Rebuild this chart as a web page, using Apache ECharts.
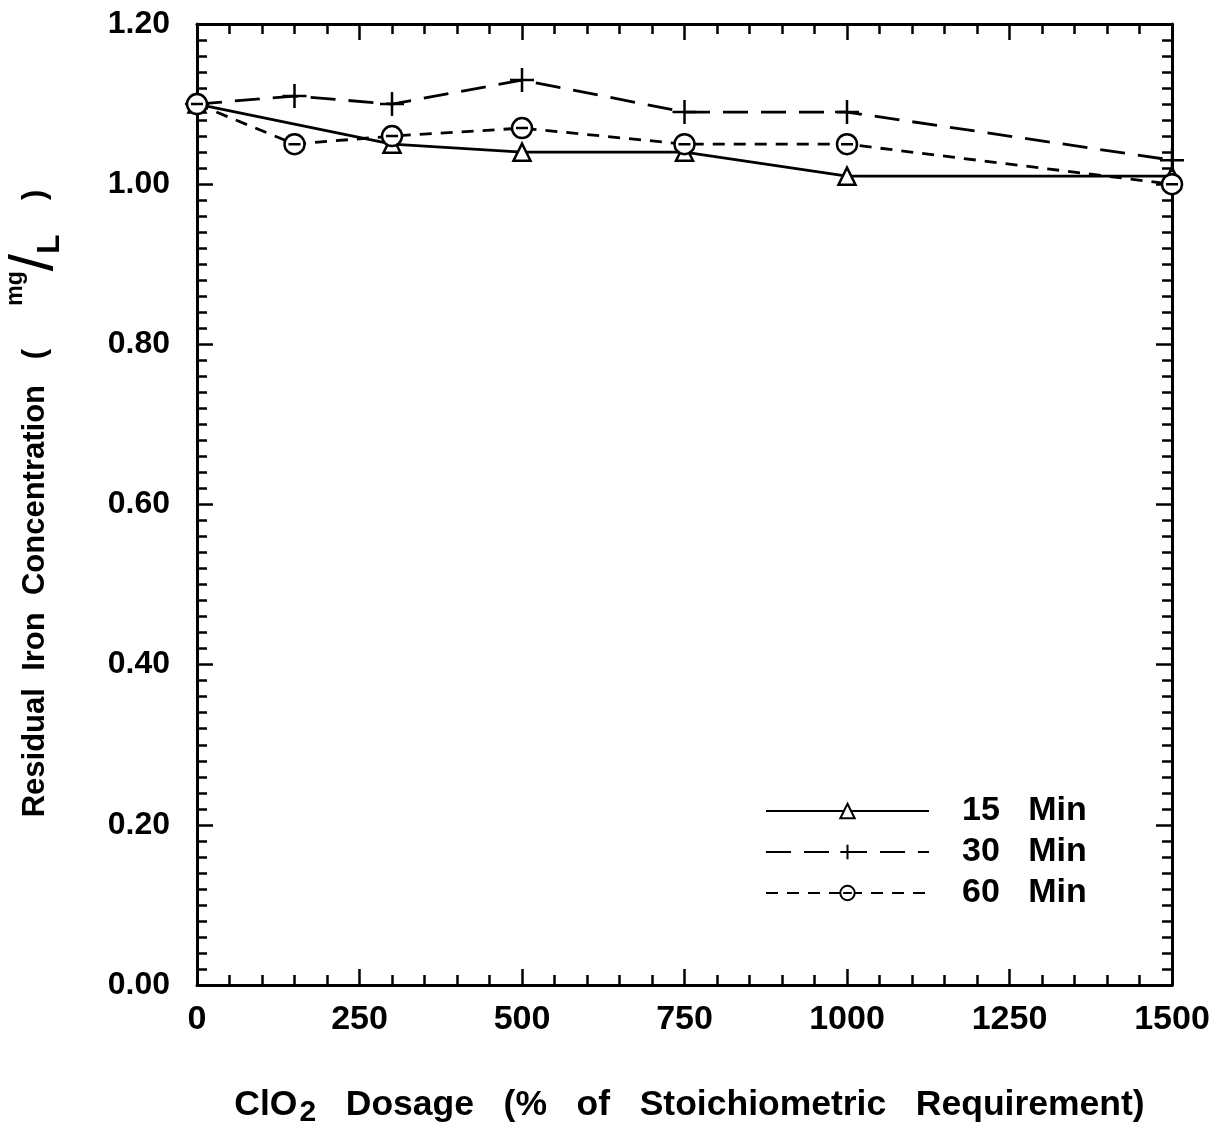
<!DOCTYPE html>
<html>
<head>
<meta charset="utf-8">
<script src="https://cdn.jsdelivr.net/npm/echarts@6/dist/echarts.min.js"></script>
<style>html,body{margin:0;padding:0;background:#fff;}#c{width:1232px;height:1128px;}</style>
</head>
<body>
<div id="c"></div>
<script>
const dosage15 = [0, 300, 500, 750, 1000, 1500];
const iron15 = [1.10, 1.05, 1.04, 1.04, 1.01, 1.01];
const dosage30 = [0, 150, 300, 500, 750, 1000, 1500];
const iron30 = [1.10, 1.11, 1.10, 1.13, 1.09, 1.09, 1.03];
const dosage60 = [0, 150, 300, 500, 750, 1000, 1500];
const iron60 = [1.10, 1.05, 1.06, 1.07, 1.05, 1.05, 1.00];
const seriesNames = ['15 Min', '30 Min', '60 Min'];

const FONT = '"Liberation Sans", Arial, sans-serif';
const pair = (xs, ys) => xs.map((x, i) => [x, ys[i]]);

const plusPath = 'path://M0,10 L20,10 M10,0 L10,20';
const circMinus = 'path://M0,10 A10,10 0 1,1 20,10 A10,10 0 1,1 0,10 Z M4,10 L16,10';

const chart = echarts.init(document.getElementById('c'), null, {renderer: 'canvas'});
const axisCommon = {
  min: 0,
  axisLine: {show: true, onZero: false, lineStyle: {color: '#000', width: 3}},
  axisTick: {show: true, inside: true, length: 16, lineStyle: {color: '#000', width: 2.5}},
  minorTick: {show: true, length: 10, lineStyle: {color: '#000', width: 2.5}},
  splitLine: {show: false},
  minorSplitLine: {show: false}
};
const bold = (size, extra) => Object.assign({color: '#000', fontFamily: FONT, fontWeight: 'bold', fontSize: size}, extra || {});

chart.setOption({
  backgroundColor: '#fff',
  animation: false,
  grid: {left: 197, top: 24, width: 975, height: 961, containLabel: false, outerBoundsMode: 'none'},
  legend: {
    orient: 'vertical',
    left: 760,
    top: 789,
    itemWidth: 163,
    itemHeight: 18,
    itemGap: 7,
    data: seriesNames,
    formatter: n => n.replace(' ', '   '),
    textStyle: bold(34, {lineHeight: 34, padding: [0, 0, 0, 28]})
  },
  xAxis: [
    Object.assign({}, axisCommon, {
      type: 'value', position: 'bottom', max: 1500, interval: 250,
      minorTick: Object.assign({}, axisCommon.minorTick, {splitNumber: 5}),
      axisLabel: bold(34, {margin: 18, formatter: v => String(v)}),
      name: 'ClO{sub|2}   Dosage   (%   of   Stoichiometric   Requirement)',
      nameLocation: 'middle',
      nameGap: 97,
      nameTextStyle: bold(35.5, {
        padding: [0, 0, 0, 10],
        rich: {sub: bold(30, {verticalAlign: 'bottom', padding: [16, 0, 0, 2]})}
      })
    }),
    Object.assign({}, axisCommon, {
      type: 'value', position: 'top', max: 1500, interval: 250,
      minorTick: Object.assign({}, axisCommon.minorTick, {splitNumber: 5}),
      axisLabel: {show: false}
    })
  ],
  yAxis: [
    Object.assign({}, axisCommon, {
      type: 'value', position: 'left', max: 1.2, interval: 0.2,
      minorTick: Object.assign({}, axisCommon.minorTick, {splitNumber: 10}),
      axisLabel: bold(32, {margin: 27, formatter: v => v.toFixed(2)}),
      name: 'Residual  Iron  Concentration   (     {sup|mg}{sl|/}{sub|L}    )',
      nameLocation: 'middle',
      nameGap: 131,
      nameRotate: 90,
      nameTextStyle: bold(31, {
        padding: [0, 0, 0, 2],
        rich: {
          sup: bold(23, {verticalAlign: 'top', padding: [0, 0, 20, 0]}),
          sl: bold(62, {fontWeight: 'normal'}),
          sub: bold(32, {verticalAlign: 'bottom', padding: [20, 0, 0, 0]})
        }
      })
    }),
    Object.assign({}, axisCommon, {
      type: 'value', position: 'right', max: 1.2, interval: 0.2,
      minorTick: Object.assign({}, axisCommon.minorTick, {splitNumber: 10}),
      axisLabel: {show: false}
    })
  ],
  series: [
    {
      name: seriesNames[0], type: 'line', data: pair(dosage15, iron15),
      symbol: 'triangle', symbolSize: 17,
      lineStyle: {color: '#000', width: 2.8, type: 'solid'},
      itemStyle: {color: '#fff', borderColor: '#000', borderWidth: 2.5}
    },
    {
      name: seriesNames[1], type: 'line', data: pair(dosage30, iron30),
      symbol: plusPath, symbolSize: 24,
      lineStyle: {color: '#000', width: 2.8, type: [25, 13]},
      itemStyle: {color: '#000', borderColor: '#000', borderWidth: 2.5}
    },
    {
      name: seriesNames[2], type: 'line', data: pair(dosage60, iron60),
      symbol: circMinus, symbolSize: 20,
      lineStyle: {color: '#000', width: 2.8, type: [12, 9]},
      itemStyle: {color: '#fff', borderColor: '#000', borderWidth: 2.5}
    }
  ]
});
</script>
</body>
</html>
